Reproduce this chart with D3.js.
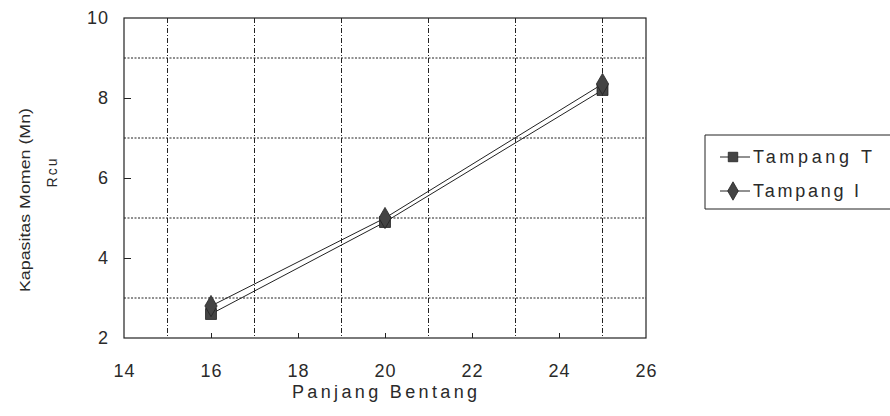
<!DOCTYPE html>
<html>
<head>
<meta charset="utf-8">
<script src="https://cdn.jsdelivr.net/npm/d3@7"></script>
<style>
  body { margin: 0; background: #fff; }
  svg { display: block; font-family: 'Liberation Sans', Arial, sans-serif; }
</style>
</head>
<body>
<svg id="chart" width="890" height="416"></svg>
<script>
'use strict';

/* ── data ────────────────────────────────── */
const spans     = [16, 20, 25];
const tampangT  = [2.6, 4.9, 8.2];
const tampangI  = [2.8, 5.0, 8.35];
const seriesNames = ['Tampang T', 'Tampang I'];
const xTicks    = [14, 16, 18, 20, 22, 24, 26];
const yTicks    = [2, 4, 6, 8, 10];
const xGrid     = [15, 17, 19, 21, 23, 25];
const yGrid     = [3, 5, 7, 9];

/* ── layout ──────────────────────────────── */
const svg = d3.select('#chart');
const L = 124, R = 646, T = 18, B = 338;

const x = d3.scaleLinear().domain([14, 26]).range([L, R]);
const y = d3.scaleLinear().domain([2, 10]).range([B, T]);

const ink = '#222';
const txt = '#2a2a2a';

// grid
svg.append('g').selectAll('line').data(xGrid).join('line')
  .attr('x1', d => x(d)).attr('x2', d => x(d))
  .attr('y1', T).attr('y2', B)
  .attr('stroke', ink).attr('stroke-width', 1)
  .attr('stroke-dasharray', '5,2,1,2');

svg.append('g').selectAll('line').data(yGrid).join('line')
  .attr('x1', L).attr('x2', R)
  .attr('y1', d => y(d)).attr('y2', d => y(d))
  .attr('stroke', ink).attr('stroke-width', 1)
  .attr('stroke-dasharray', '2,1.5');

// frame
svg.append('rect')
  .attr('x', L).attr('y', T).attr('width', R - L).attr('height', B - T)
  .attr('fill', 'none').attr('stroke', ink).attr('stroke-width', 1.2);

// axes (inner ticks, labels outside)
const xAxis = d3.axisBottom(x).tickValues(xTicks).tickSize(-5).tickPadding(26);
const yAxis = d3.axisLeft(y).tickValues(yTicks).tickSize(-7).tickPadding(15);

const gx = svg.append('g').attr('transform', `translate(0,${B})`).call(xAxis);
const gy = svg.append('g').attr('transform', `translate(${L},0)`).call(yAxis);
[gx, gy].forEach(g => {
  g.select('.domain').remove();
  g.selectAll('line').attr('stroke', ink);
  g.selectAll('text')
    .attr('font-size', 18).attr('letter-spacing', 1).attr('fill', txt)
    .attr('font-family', "'Liberation Sans', Arial, sans-serif");
});
gx.selectAll('.tick').filter(d => d === 14 || d === 26).select('line').remove();
gy.selectAll('.tick').filter(d => d === 2 || d === 10).select('line').remove();

// titles
svg.append('text')
  .attr('x', 292).attr('y', 398)
  .attr('font-size', 18).attr('fill', txt)
  .attr('textLength', 185).attr('lengthAdjust', 'spacing')
  .text('Panjang Bentang');

svg.append('text')
  .attr('transform', 'translate(30,292) rotate(-90)')
  .attr('font-size', 15).attr('fill', txt)
  .attr('textLength', 184).attr('lengthAdjust', 'spacingAndGlyphs')
  .text('Kapasitas Momen (Mn)');

svg.append('text')
  .attr('transform', 'translate(57,172) rotate(-90)')
  .attr('text-anchor', 'middle')
  .attr('font-size', 14).attr('letter-spacing', 2).attr('fill', txt)
  .text('Rcu');

/* ── series ──────────────────────────────── */
const series = [
  { name: seriesNames[0], values: tampangT, symbol: d3.symbolSquare,  size: 120 },
  { name: seriesNames[1], values: tampangI, symbol: d3.symbolDiamond, size: 130 },
];

const line = d3.line().x((d, i) => x(spans[i])).y(d => y(d));

series.forEach(s => {
  svg.append('path')
    .attr('d', line(s.values))
    .attr('fill', 'none').attr('stroke', ink).attr('stroke-width', 1);
});

series.forEach(s => {
  svg.append('g').selectAll('path').data(s.values).join('path')
    .attr('transform', (d, i) => `translate(${x(spans[i])},${y(d)})`)
    .attr('d', d3.symbol().type(s.symbol).size(s.size))
    .attr('fill', '#444').attr('stroke', ink).attr('stroke-width', 0.8);
});

/* ── legend ──────────────────────────────── */
const lg = svg.append('g').attr('transform', 'translate(705,135)');
lg.append('path')
  .attr('d', 'M190,0 H0 V74 H190')
  .attr('fill', 'none').attr('stroke', ink).attr('stroke-width', 1);

series.forEach((s, i) => {
  const ly = 22 + i * 34;
  lg.append('line')
    .attr('x1', 15).attr('x2', 45).attr('y1', ly).attr('y2', ly)
    .attr('stroke', ink).attr('stroke-width', 1);
  lg.append('path')
    .attr('transform', `translate(28,${ly})`)
    .attr('d', d3.symbol().type(s.symbol).size(s.size * 0.75))
    .attr('fill', '#444').attr('stroke', ink).attr('stroke-width', 0.8);
  lg.append('text')
    .attr('x', 48).attr('y', ly + 6)
    .attr('font-size', 18).attr('fill', txt)
    .attr('textLength', i === 0 ? 119 : 106).attr('lengthAdjust', 'spacing')
    .text(s.name);
});
</script>
</body>
</html>
